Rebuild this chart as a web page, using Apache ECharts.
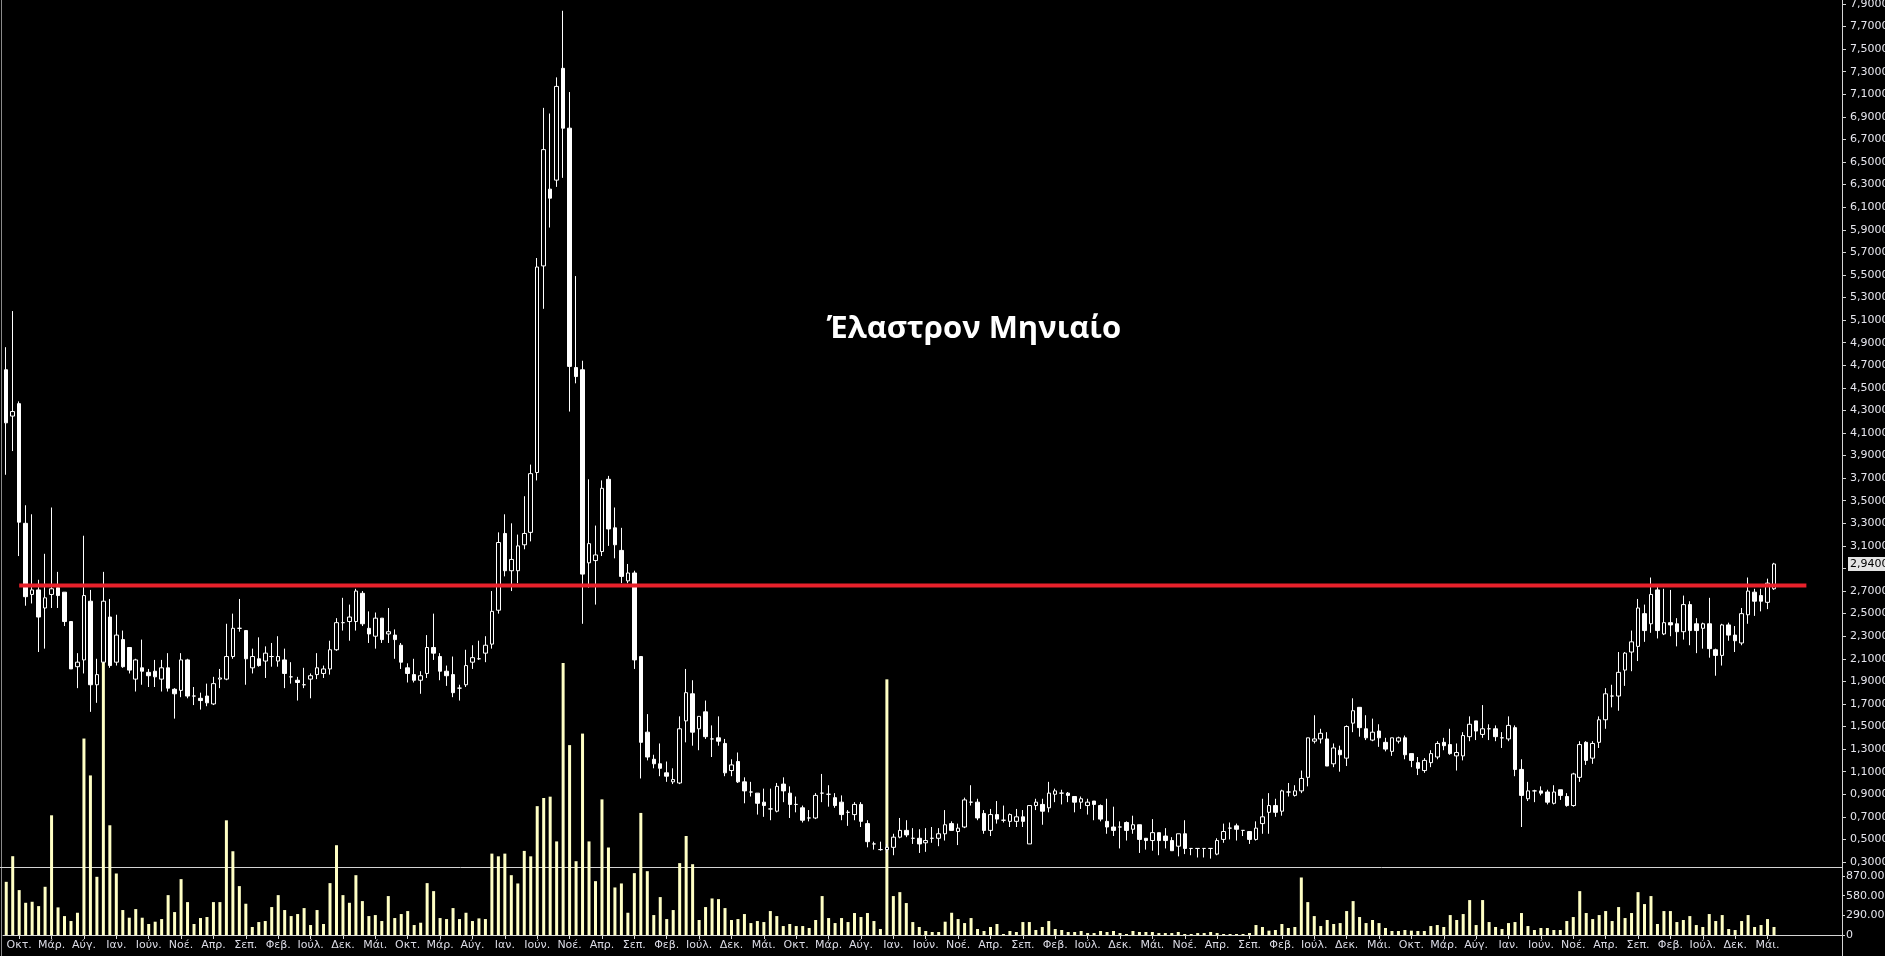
<!DOCTYPE html>
<html>
<head>
<meta charset="utf-8">
<script src="https://cdn.jsdelivr.net/npm/echarts@6/dist/echarts.min.js"></script>
<style>html,body{margin:0;padding:0;background:#000;overflow:hidden}#c{width:1885px;height:956px}</style>
</head>
<body>
<div id="c"></div>
<script>
const chartTitle = 'Έλαστρον Μηνιαίο';
const startMonth = '2000-08';
const endMonth = '2023-06';
const missingMonths = ['2015-07'];
const monthNames = ['Ιαν.','Φεβ.','Μάρ.','Απρ.','Μάι.','Ιούν.','Ιούλ.','Αύγ.','Σεπ.','Οκτ.','Νοέ.','Δεκ.'];

const opens = [
4.66,4.25,4.36,3.30,2.67,2.71,2.55,2.67,2.73,2.69,
2.43,2.03,2.09,2.61,1.87,2.07,2.47,2.07,2.27,2.20,
1.92,2.02,1.98,1.99,1.92,2.02,1.83,1.82,2.09,1.77,
1.75,1.77,1.70,1.92,1.92,2.12,2.37,2.35,2.02,2.10,
2.08,2.12,2.08,2.09,1.94,1.91,1.87,1.92,1.96,1.97,
2.01,2.18,2.42,2.43,2.43,2.68,2.37,2.30,2.46,2.32,
2.31,2.22,2.02,1.96,1.91,1.97,2.20,2.12,1.99,1.96,
1.84,1.87,2.07,2.10,2.15,2.23,2.53,3.21,2.88,2.88,
3.11,3.22,3.75,5.58,6.26,6.34,7.33,6.80,4.68,4.66,
2.95,2.97,3.05,3.69,3.26,3.06,2.79,2.86,2.12,1.45,
1.21,1.17,1.09,1.01,1.00,1.55,1.79,1.48,1.63,1.39,
1.40,1.35,1.11,1.19,1.01,0.92,0.91,0.83,0.77,0.75,
0.99,0.91,0.81,0.78,0.69,0.69,0.91,0.90,0.87,0.83,
0.74,0.72,0.81,0.64,0.46,0.41,0.41,0.43,0.52,0.58,
0.51,0.51,0.47,0.51,0.51,0.55,0.64,0.57,0.61,0.83,
0.83,0.73,0.58,0.72,0.67,0.66,0.66,0.70,0.46,0.80,
0.81,0.78,0.90,0.91,0.91,0.88,0.83,0.80,0.84,0.80,
0.66,0.61,0.61,0.65,0.59,0.63,0.51,0.49,0.56,0.53,
0.49,0.44,0.55,0.42,0.42,0.42,0.42,0.37,0.50,0.60,
0.62,0.58,0.57,0.50,0.64,0.74,0.80,0.75,0.92,0.89,
0.93,1.05,1.37,1.39,1.39,1.17,1.29,1.22,1.53,1.67,
1.48,1.38,1.46,1.36,1.28,1.37,1.40,1.26,1.18,1.11,
1.18,1.23,1.36,1.34,1.24,1.24,1.41,1.55,1.43,1.48,
1.48,1.40,1.39,1.49,1.12,0.86,0.93,0.93,0.92,0.82,
0.94,0.88,0.80,1.05,1.36,1.22,1.36,1.56,1.77,1.77,
2.00,2.16,2.21,2.50,2.41,2.71,2.32,2.42,2.41,2.34,
2.58,2.41,2.37,2.41,2.18,2.13,2.40,2.31,2.24,2.49,
2.69,2.66,2.60,2.72
];
const closes = [
4.19,4.29,3.31,2.65,2.71,2.47,2.64,2.72,2.66,2.43,
2.01,2.07,2.66,1.87,1.96,2.61,2.04,2.31,2.03,2.00,
2.09,1.99,1.95,1.94,2.02,1.84,1.79,2.09,1.77,1.77,
1.73,1.71,1.88,1.93,2.12,2.37,2.37,2.10,2.12,2.04,
2.15,2.12,2.12,1.97,1.94,1.89,1.87,1.95,2.02,2.01,
2.18,2.42,2.42,2.47,2.70,2.41,2.32,2.46,2.27,2.34,
2.27,2.07,1.97,1.91,1.95,2.20,2.15,1.99,1.95,1.80,
1.84,2.04,2.11,2.10,2.22,2.52,3.13,2.88,2.98,3.10,
3.21,3.74,5.57,6.61,6.18,7.17,6.80,4.69,4.60,2.85,
3.12,3.02,3.61,3.25,3.11,2.83,2.86,2.09,1.36,1.23,
1.17,1.13,1.06,1.03,1.48,1.80,1.45,1.59,1.41,1.39,
1.37,1.09,1.16,1.01,0.93,0.92,0.82,0.80,0.77,0.97,
0.93,0.81,0.81,0.67,0.69,0.89,0.91,0.90,0.80,0.72,
0.74,0.81,0.66,0.48,0.46,0.41,0.43,0.52,0.58,0.54,
0.51,0.46,0.49,0.51,0.55,0.63,0.58,0.60,0.85,0.83,
0.69,0.58,0.72,0.68,0.67,0.72,0.70,0.66,0.80,0.83,
0.75,0.91,0.93,0.91,0.89,0.83,0.86,0.83,0.81,0.68,
0.61,0.58,0.61,0.58,0.63,0.50,0.49,0.56,0.49,0.49,
0.40,0.55,0.42,0.42,0.42,0.42,0.42,0.49,0.57,0.60,
0.59,0.58,0.50,0.60,0.70,0.80,0.74,0.93,0.92,0.93,
1.04,1.40,1.39,1.44,1.15,1.31,1.25,1.50,1.64,1.49,
1.40,1.45,1.40,1.30,1.40,1.40,1.25,1.20,1.13,1.20,
1.26,1.35,1.33,1.26,1.27,1.42,1.52,1.46,1.48,1.48,
1.41,1.40,1.51,1.12,0.89,0.93,0.93,0.91,0.83,0.92,
0.89,0.80,1.08,1.34,1.20,1.35,1.56,1.79,1.77,1.98,
2.15,2.25,2.55,2.35,2.67,2.35,2.42,2.40,2.34,2.58,
2.35,2.35,2.41,2.19,2.13,2.40,2.31,2.26,2.50,2.70,
2.61,2.61,2.77,2.94
];
const lows = [
3.73,3.94,3.01,2.57,2.59,2.16,2.19,2.55,2.55,2.39,
2.01,1.84,1.97,1.63,1.71,2.06,2.02,2.04,2.02,1.97,
1.81,1.87,1.85,1.85,1.81,1.81,1.57,1.76,1.75,1.69,
1.65,1.68,1.69,1.84,1.91,2.10,2.34,1.87,1.97,2.03,
1.93,2.03,2.03,1.84,1.88,1.73,1.84,1.75,1.92,1.93,
1.96,2.17,2.35,2.26,2.35,2.39,2.24,2.19,2.24,2.24,
2.10,2.01,1.89,1.89,1.79,1.93,2.09,1.91,1.86,1.76,
1.73,1.85,2.01,2.09,2.07,2.19,2.50,2.83,2.70,2.77,
3.07,3.14,3.68,5.20,5.92,6.28,6.36,4.29,4.54,2.41,
2.73,2.58,3.01,3.10,2.99,2.77,2.77,2.01,1.04,1.20,
1.13,1.06,1.01,0.99,0.99,1.36,1.33,1.29,1.39,1.23,
1.33,1.06,1.06,1.00,0.82,0.88,0.72,0.70,0.67,0.74,
0.83,0.69,0.74,0.65,0.66,0.68,0.83,0.79,0.78,0.67,
0.62,0.67,0.61,0.43,0.41,0.40,0.38,0.36,0.51,0.52,
0.46,0.38,0.39,0.47,0.44,0.49,0.58,0.45,0.60,0.80,
0.67,0.55,0.53,0.64,0.65,0.61,0.61,0.61,0.46,0.76,
0.63,0.74,0.83,0.81,0.83,0.74,0.77,0.72,0.67,0.66,
0.55,0.53,0.42,0.49,0.55,0.38,0.41,0.40,0.36,0.42,
0.40,0.35,0.37,0.36,0.34,0.34,0.33,0.36,0.47,0.50,
0.49,0.53,0.46,0.49,0.55,0.55,0.70,0.71,0.88,0.88,
0.91,0.97,1.35,1.35,1.15,1.14,1.10,1.15,1.45,1.41,
1.38,1.37,1.32,1.28,1.24,1.35,1.21,1.14,1.07,1.09,
1.14,1.21,1.29,1.25,1.11,1.20,1.37,1.38,1.40,1.38,
1.37,1.31,1.37,1.06,0.61,0.84,0.83,0.89,0.81,0.81,
0.85,0.79,0.79,1.01,1.16,1.17,1.31,1.48,1.67,1.64,
1.86,1.99,2.08,2.25,2.33,2.28,2.31,2.30,2.21,2.27,
2.22,2.15,2.19,2.11,1.95,2.04,2.26,2.16,2.22,2.41,
2.48,2.52,2.54,2.71
];
const highs = [
4.86,5.18,4.38,3.46,3.38,2.80,3.03,3.44,2.87,2.69,
2.43,2.15,3.19,2.71,2.10,2.87,2.63,2.49,2.35,2.20,
2.10,2.27,2.01,2.09,2.09,2.15,1.84,2.15,2.10,1.85,
1.80,1.88,1.94,2.01,2.41,2.50,2.63,2.35,2.19,2.29,
2.21,2.24,2.30,2.19,2.07,1.94,2.02,1.97,2.15,2.04,
2.26,2.46,2.64,2.58,2.72,2.70,2.52,2.51,2.46,2.55,
2.36,2.24,2.06,2.10,1.99,2.31,2.50,2.15,2.04,2.12,
1.87,2.18,2.22,2.26,2.30,2.70,3.22,3.38,3.30,3.20,
3.54,3.82,5.65,6.98,6.93,7.25,7.84,7.12,5.49,4.74,
3.69,3.28,3.68,3.72,3.44,3.26,2.94,2.88,2.12,1.61,
1.25,1.35,1.19,1.13,1.59,2.01,1.91,1.59,1.73,1.51,
1.59,1.39,1.21,1.27,1.05,1.01,0.91,0.95,0.95,1.00,
1.05,0.97,0.88,0.80,0.76,0.91,1.08,0.98,0.91,0.89,
0.76,0.83,0.83,0.67,0.48,0.48,0.46,0.55,0.69,0.67,
0.60,0.59,0.60,0.61,0.60,0.76,0.66,0.64,0.87,0.98,
0.86,0.76,0.77,0.84,0.80,0.73,0.77,0.76,0.80,0.86,
0.86,1.01,0.95,0.94,0.92,0.88,0.88,0.86,0.84,0.81,
0.86,0.79,0.66,0.66,0.71,0.63,0.51,0.68,0.56,0.60,
0.52,0.55,0.67,0.42,0.42,0.42,0.42,0.51,0.64,0.65,
0.64,0.58,0.57,0.66,0.86,0.91,0.86,0.94,1.00,0.98,
1.11,1.40,1.60,1.48,1.45,1.35,1.33,1.51,1.75,1.67,
1.60,1.57,1.52,1.40,1.40,1.41,1.42,1.26,1.23,1.22,
1.29,1.37,1.40,1.48,1.35,1.45,1.59,1.55,1.69,1.52,
1.51,1.45,1.59,1.51,1.21,1.01,0.94,0.97,0.94,0.98,
0.94,0.91,1.09,1.37,1.37,1.37,1.59,1.84,1.87,2.16,
2.16,2.35,2.63,2.58,2.82,2.74,2.72,2.71,2.46,2.66,
2.61,2.46,2.42,2.64,2.19,2.41,2.42,2.39,2.55,2.82,
2.72,2.72,2.81,2.95
];
// volume in thousands of shares
const volumes = [
784,1162,662,475,490,426,711,1765,407,279,
206,328,2897,2353,858,4100,1618,907,368,255,
382,255,162,196,235,588,338,824,485,162,
250,265,485,485,1691,1235,721,461,118,191,
206,412,588,368,279,309,397,147,368,162,
765,1324,588,475,882,500,279,294,206,574,
250,309,353,147,181,765,647,250,235,397,
235,328,206,245,235,1200,1160,1200,882,760,
1240,1160,1900,2020,2040,1380,4010,2800,1088,2970,
1380,794,2000,1290,701,760,328,912,1800,941,
294,559,235,368,1060,1460,1044,221,412,539,
529,397,221,235,309,176,206,191,353,279,
132,162,132,132,103,221,574,250,176,250,
191,324,265,324,206,88,3770,574,632,471,
191,118,59,44,44,196,328,235,176,250,
88,59,118,162,15,59,44,191,191,74,
118,206,88,74,44,44,59,29,29,59,
44,59,29,15,59,44,44,44,29,29,
29,44,15,15,29,29,44,29,15,15,
15,15,29,147,118,64,74,162,103,118,
848,485,279,132,221,162,176,353,500,265,
176,221,176,103,59,59,74,64,59,59,
132,147,118,294,221,309,515,147,515,191,
118,88,176,191,324,132,74,103,103,74,
74,206,265,647,324,235,294,353,206,412,
250,324,632,456,574,162,353,353,191,221,
279,147,118,309,206,294,88,74,206,294,
118,147,235,118
];
const resistanceLevel = 2.75;
const resistanceFrom = 2;      // month index where the drawn level starts
const resistanceTo = 278;      // month index where it ends (5 empty months after the last bar)
const priceMin = 0.3, priceMax = 7.9, priceStep = 0.2;
const volumeMax = 870, volumeStep = 290;
const emptySlotsRight = 10;

function buildMonths(start, end, skip) {
  const out = [];
  let [y, m] = start.split('-').map(Number);
  const [ey, em] = end.split('-').map(Number);
  while (y < ey || (y === ey && m <= em)) {
    const s = y + '-' + String(m).padStart(2, '0');
    if (!skip.includes(s)) out.push(s);
    m++; if (m > 12) { m = 1; y++; }
  }
  return out;
}
const months = buildMonths(startMonth, endMonth, missingMonths);
const N = months.length;
const axisCats = months.concat(Array.from({length: emptySlotsRight}, (_, k) => 'empty' + k));
const M = axisCats.length;
const candleData = opens.map((o, i) => [o, closes[i], lows[i], highs[i]]);
const lastClose = closes[closes.length - 1];

const showLabel = (idx) => idx < N && (idx - 2) % 5 === 0;
const fmtPrice = v => v.toFixed(4).replace('.', ',');
const fmtVol = v => v === 0 ? '0' : Math.round(v) + '.000';

const chart = echarts.init(document.getElementById('c'), null, {renderer: 'canvas'});
const axisGrey = '#d4d4d4';
const labelFont = 'DejaVu Sans';

chart.setOption({
  backgroundColor: '#000',
  animation: false,
  grid: [
    {left: 3, right: 43, top: 4, height: 858, containLabel: false, outerBoundsMode: 'none'},
    {left: 3, right: 43, top: 876, height: 59, containLabel: false, outerBoundsMode: 'none'}
  ],
  xAxis: [
    {type: 'category', gridIndex: 0, data: axisCats, boundaryGap: true,
     axisLine: {show: false, onZero: false}, axisTick: {show: false}, axisLabel: {show: false}, splitLine: {show: false}},
    {type: 'category', gridIndex: 1, data: axisCats, boundaryGap: true,
     axisLine: {show: true, onZero: false, lineStyle: {color: axisGrey, width: 1}},
     axisTick: {show: true, interval: showLabel, alignWithLabel: true, length: 4, lineStyle: {color: axisGrey}},
     axisLabel: {interval: showLabel, margin: 5, color: '#dcdce6', fontSize: 11, fontFamily: labelFont,
       formatter: v => monthNames[Number(v.slice(5, 7)) - 1]},
     splitLine: {show: false}},
    // hidden numeric twin of the month axis (band centres at integer positions) for the level line
    {type: 'value', gridIndex: 0, min: -0.5, max: M - 0.5, show: false,
     axisLine: {show: false, onZero: false}, axisTick: {show: false}, axisLabel: {show: false}, splitLine: {show: false}}
  ],
  yAxis: [
    {type: 'value', gridIndex: 0, position: 'right', min: priceMin, max: priceMax, interval: priceStep,
     axisLine: {show: false, onZero: false},
     axisTick: {show: true, length: 4, lineStyle: {color: axisGrey}},
     axisLabel: {margin: 8, color: '#e6e6ee', fontSize: 11, fontFamily: labelFont,
       formatter: v => Math.abs(v - 2.9) < 1e-6 ? '' : fmtPrice(v)},
     splitLine: {show: false}},
    {type: 'value', gridIndex: 1, position: 'right', min: 0, max: volumeMax, interval: volumeStep,
     axisLine: {show: false, onZero: false},
     axisTick: {show: true, length: 3, lineStyle: {color: axisGrey}},
     axisLabel: {margin: 4, color: '#e6e6ee', fontSize: 11, fontFamily: labelFont, formatter: fmtVol},
     splitLine: {show: false}}
  ],
  series: [
    {type: 'bar', name: 'Όγκος', xAxisIndex: 1, yAxisIndex: 1, data: volumes, barWidth: 3,
     itemStyle: {color: '#ffffc4'}, clip: false, z: 1, silent: true},
    {type: 'candlestick', name: 'Έλαστρον', xAxisIndex: 0, yAxisIndex: 0, data: candleData, barWidth: 4,
     itemStyle: {color: '#000', color0: '#fff', borderColor: '#fff', borderColor0: '#fff', borderColorDoji: '#fff', borderWidth: 1},
     z: 2, silent: true,
     markLine: {
       silent: true, symbol: ['none', 'none'], animation: false,
       data: [
         {yAxis: lastClose, lineStyle: {color: 'rgba(0,0,0,0)', width: 1, opacity: 1},
          label: {show: true, position: 'end', distance: 6, formatter: fmtPrice(lastClose), color: '#000',
                  backgroundColor: '#e4e4e4', padding: [2, 2, 1, 2], fontSize: 11, fontFamily: labelFont}}
       ]
     }},
    {type: 'line', name: 'Αντίσταση', xAxisIndex: 2, yAxisIndex: 0, z: 5, silent: true, clip: false,
     symbol: 'none', data: [[resistanceFrom, resistanceLevel], [resistanceTo, resistanceLevel]],
     lineStyle: {color: '#e8212b', width: 4, type: 'solid', cap: 'butt'}}
  ],
  graphic: [
    {id: 'leftBorder', type: 'line', z: 0, silent: true, shape: {x1: 1.5, y1: 0, x2: 1.5, y2: 956}, style: {stroke: '#8a8a8a', lineWidth: 1}},
    {id: 'separator', type: 'line', z: 0, silent: true, shape: {x1: 0, y1: 867.5, x2: 1842, y2: 867.5}, style: {stroke: axisGrey, lineWidth: 1}},
    {id: 'rightBorder', type: 'line', z: 0, silent: true, shape: {x1: 1842.5, y1: 0, x2: 1842.5, y2: 956}, style: {stroke: axisGrey, lineWidth: 1}},
    {id: 'title', type: 'text', z: 10, silent: true, x: 974, y: 329,
     style: {text: chartTitle, fill: '#ffffff', font: 'bold 31px "Open Sans"', align: 'center', verticalAlign: 'middle', textAlign: 'center', textVerticalAlign: 'middle'}}
  ]
});
</script>
</body>
</html>
